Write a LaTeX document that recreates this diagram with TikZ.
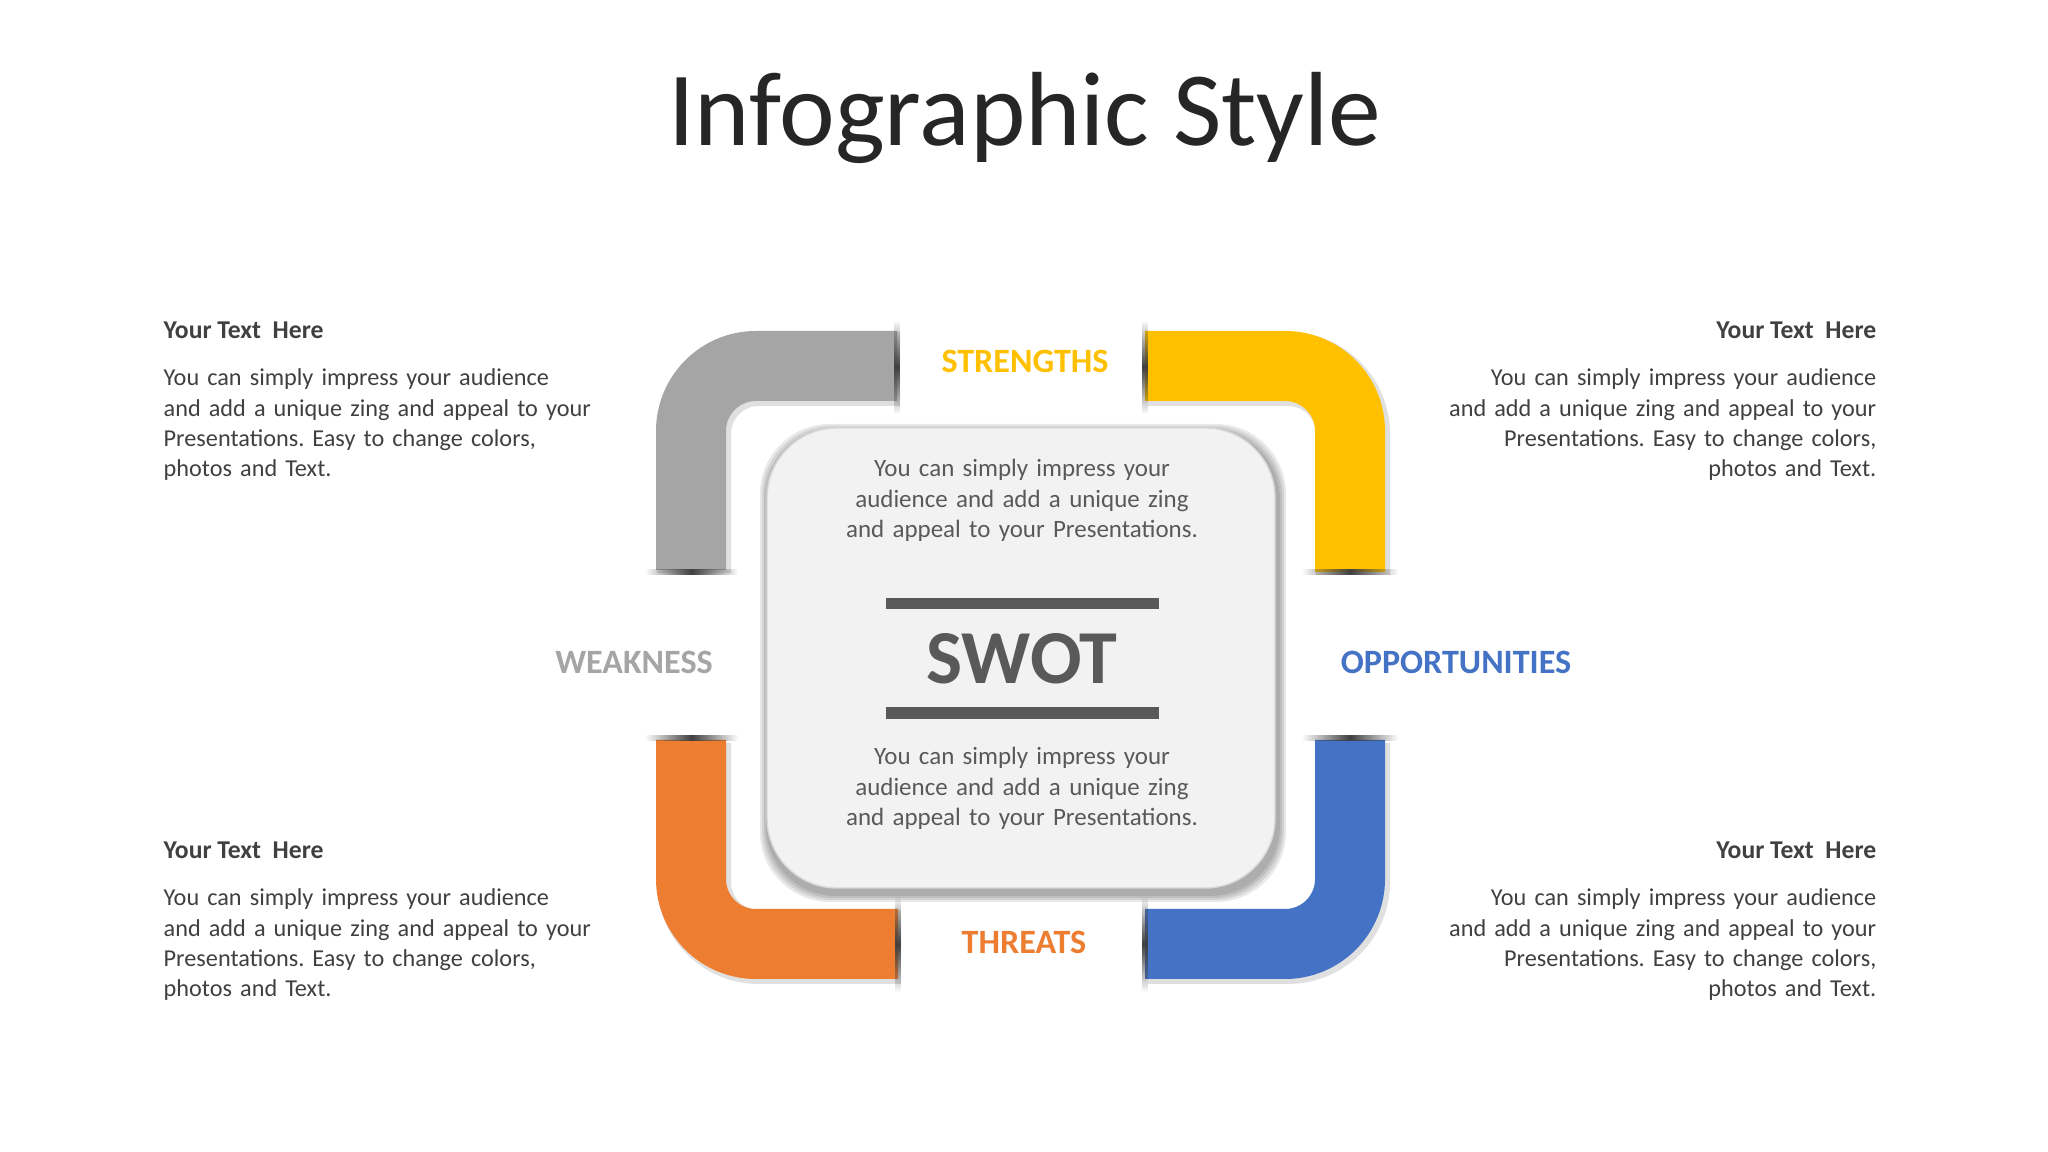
\documentclass[tikz,border=0pt]{standalone}
\usepackage{fontspec}
\setmainfont{Carlito}
\frenchspacing
\usetikzlibrary{fadings}
\definecolor{swotgray}{HTML}{A5A5A5}
\definecolor{swotyellow}{HTML}{FFC000}
\definecolor{swotorange}{HTML}{ED7D31}
\definecolor{swotblue}{HTML}{4472C4}
\definecolor{corefill}{HTML}{F2F2F2}
\definecolor{darktext}{HTML}{404040}
\definecolor{midtext}{HTML}{595959}
\definecolor{titletext}{HTML}{262626}
\tikzfading[name=capfadev, top color=transparent!100, bottom color=transparent!100, middle color=transparent!0]
\tikzfading[name=capfadeh, left color=transparent!100, right color=transparent!100, middle color=transparent!0]
\begin{document}
\begin{tikzpicture}[x=0.1mm, y=-0.1mm,
    pipeband/.style={line width=7mm, rounded corners=6.5mm},
    pipeshade/.style={line width=7.4mm, rounded corners=6.5mm, black, opacity=0.12, shift={(3,3)}},
    swotlabel/.style={font=\bfseries\fontsize{9.7}{11}\selectfont, inner sep=0pt, anchor=base},
    headtext/.style={font=\bfseries\fontsize{7.3}{8.5}\selectfont, text=darktext, inner sep=0pt},
    bodytext/.style={font=\fontsize{6.9}{8.6}\selectfont, text=darktext, inner sep=0pt, text width=46mm},
    coretext/.style={font=\fontsize{7.1}{8.54}\selectfont, text=midtext, inner sep=0pt, text width=40mm, align=center, anchor=base}]
                \fill[white] (0,0) rectangle (2048,1152);
                \useasboundingbox (0,0) rectangle (2048,1152);

                \node[font=\fontsize{30}{36}\selectfont, text=titletext, anchor=base] (title) at (1025,146) {Infographic Style};

                % the four bent pipes
                \draw[pipeshade] (691,570) -- (691,366) -- (897,366);
                \draw[pipeband, swotgray] (691,570) -- (691,366) -- (897,366);
                \draw[pipeshade] (1145,366) -- (1350,366) -- (1350,572);
                \draw[pipeband, swotyellow] (1145,366) -- (1350,366) -- (1350,572);
                \draw[pipeshade] (691,740) -- (691,944) -- (898,944);
                \draw[pipeband, swotorange] (691,740) -- (691,944) -- (898,944);
                \draw[pipeshade] (1145,944) -- (1350,944) -- (1350,740);
                \draw[pipeband, swotblue] (1145,944) -- (1350,944) -- (1350,740);

                % dark ends of the pipes
                \foreach \x/\ya/\yb in {897/320/414, 1145/320/414, 898/896/992, 1145/896/992}
                    \fill[black!75, path fading=capfadev] (\x-3,\ya) rectangle (\x+3,\yb);
                \foreach \xa/\xb/\y in {645/738/572, 1302/1398/572, 645/738/738, 1302/1398/738}
                    \fill[black!75, path fading=capfadeh] (\xa,\y-3) rectangle (\xb,\y+3);

                % centre panel with a soft shadow
                \foreach \s in {9,7,5,3}
                    \fill[black, opacity=0.09, rounded corners=7mm] (767-\s+2,428-\s+5) rectangle (1275+\s+2,888+\s+5);
                \node[draw=black!15, fill=corefill, rounded corners=7mm, minimum width=50.8mm, minimum height=46mm] (core) at (1021,658) {};
                \node[coretext] (coretop) at (1022,477) {You can simply impress your\\audience and add a unique zing\\and appeal to your Presentations.};
                \fill[midtext] (886,598) rectangle (1159,609);
                \node[font=\bfseries\fontsize{21.7}{25}\selectfont, text=midtext, inner sep=0pt, anchor=base] (swot) at (1022,684) {SWOT};
                \fill[midtext] (886,707) rectangle (1159,719);
                \node[coretext] (corebottom) at (1022,765) {You can simply impress your\\audience and add a unique zing\\and appeal to your Presentations.};

                \node[swotlabel, text=swotyellow] (strengths) at (1025,373) {STRENGTHS};
                \node[swotlabel, text=swotgray] (weakness) at (634,674) {WEAKNESS};
                \node[swotlabel, text=swotblue] (opportunities) at (1456,674) {OPPORTUNITIES};
                \node[swotlabel, text=swotorange] (threats) at (1024,954) {THREATS};

                % side texts
                \node[headtext, anchor=base west] (tlhead) at (163,339) {Your Text\ \ Here};
                \node[bodytext, align=left, anchor=base west] (tlbody) at (163,386) {You can simply impress your audience\\and add a unique zing and appeal to your\\Presentations. Easy to change colors,\\photos and Text.};
                \node[headtext, anchor=base east] (trhead) at (1877,339) {Your Text\ \ Here};
                \node[bodytext, align=right, anchor=base east] (trbody) at (1877,386) {You can simply impress your audience\\and add a unique zing and appeal to your\\Presentations. Easy to change colors,\\photos and Text.};
                \node[headtext, anchor=base west] (blhead) at (163,859) {Your Text\ \ Here};
                \node[bodytext, align=left, anchor=base west] (blbody) at (163,906) {You can simply impress your audience\\and add a unique zing and appeal to your\\Presentations. Easy to change colors,\\photos and Text.};
                \node[headtext, anchor=base east] (brhead) at (1877,859) {Your Text\ \ Here};
                \node[bodytext, align=right, anchor=base east] (brbody) at (1877,906) {You can simply impress your audience\\and add a unique zing and appeal to your\\Presentations. Easy to change colors,\\photos and Text.};
            \end{tikzpicture}
\end{document}
